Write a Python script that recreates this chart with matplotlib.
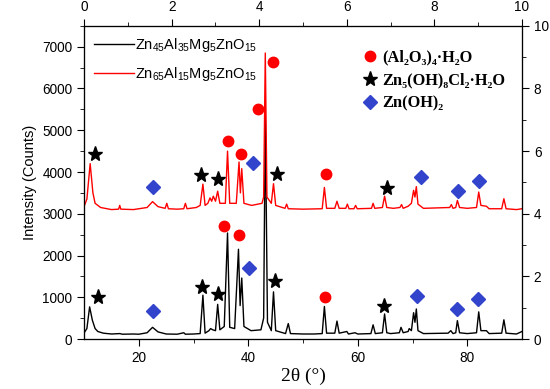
import numpy as np
import matplotlib
matplotlib.use("Agg")
import matplotlib.pyplot as plt
from matplotlib.lines import Line2D

plt.rcParams['font.family'] = ['Liberation Sans', 'DejaVu Sans']
plt.rcParams['mathtext.default'] = 'regular'

# Zn45Al35Mg5ZnO15 pattern (2theta, counts)
black_2theta = [10.0, 10.5, 11.0, 11.5, 12.0, 12.5, 13.5, 15, 16.5, 17, 19, 20, 21.5, 22.5, 23.5,
                25, 27, 28.2, 28.5, 30, 31.2, 31.7, 32.1, 32.8, 33.1, 33.5, 34.0, 34.4, 34.8,
                35.6, 36.2, 36.6, 37.5, 38.2, 38.5, 38.8, 39.2, 40.5, 42.3, 42.8, 43.1, 43.5,
                44.2, 44.6, 45.0, 46.8, 47.3, 47.7, 50, 52, 53.5, 53.9, 54.3, 55.8, 56.2, 56.6,
                58.0, 58.3, 59.5, 60, 62.4, 62.8, 63.2, 64.5, 64.9, 65.3, 66, 67.6, 67.9, 68.3,
                69.2, 69.4, 69.8, 70.2, 70.45, 70.7, 71.0, 72, 76.5, 77.0, 77.4, 77.9, 78.2,
                78.6, 80, 81.7, 82.1, 82.5, 83.5, 84, 86.3, 86.7, 87.1, 89, 90]
black_counts = [150, 250, 770, 450, 250, 180, 140, 120, 130, 115, 120, 115, 150, 280, 170,
                120, 115, 150, 115, 120, 130, 1050, 140, 200, 250, 220, 200, 830, 220,
                300, 2540, 280, 250, 2150, 800, 1460, 300, 200, 220, 500, 5360, 400,
                200, 1130, 200, 130, 370, 130, 120, 120, 130, 780, 140, 140, 430, 140,
                180, 120, 150, 120, 130, 340, 130, 150, 600, 150, 130, 150, 280, 150,
                180, 250, 200, 630, 400, 720, 200, 130, 140, 200, 130, 150, 440,
                150, 130, 150, 650, 200, 200, 130, 140, 460, 140, 120, 180]

# Zn65Al15Mg5ZnO15 pattern (2theta, counts)
red_2theta = [10.0, 10.5, 11.1, 11.6, 12.0, 13, 15, 16.3, 16.5, 16.7, 19, 21.5, 22.5, 23.5,
              24.8, 25.1, 25.4, 27, 28.2, 28.5, 28.8, 30.5, 31.2, 31.7, 32.1, 32.6, 33.0,
              33.3, 33.6, 34.0, 34.4, 34.8, 35.8, 36.2, 36.6, 37.8, 38.3, 38.55, 38.8, 39.2,
              40.6, 42.5, 42.8, 43.1, 43.4, 44.2, 44.6, 45.0, 46.7, 47.0, 47.3, 50, 53.5,
              53.9, 54.3, 55.8, 56.2, 56.6, 57.8, 58.1, 58.4, 59.3, 59.6, 59.9, 62.5, 62.8,
              63.1, 64.5, 64.9, 65.3, 66.5, 67.7, 68.0, 68.3, 69.2, 69.8, 70.2, 70.45, 70.7,
              71.0, 72, 76.8, 77.1, 77.4, 77.9, 78.2, 78.6, 80, 81.7, 82.1, 82.5, 83.5, 84,
              86.3, 86.7, 87.1, 89, 90]
red_counts = [3180, 3350, 4200, 3500, 3250, 3150, 3100, 3110, 3200, 3110, 3100, 3150, 3290, 3170,
              3130, 3250, 3120, 3110, 3120, 3250, 3120, 3150, 3200, 3710, 3200, 3250, 3380,
              3300, 3420, 3300, 3540, 3250, 3250, 4500, 3250, 3250, 4240, 3500, 4080, 3250,
              3200, 3250, 3400, 6850, 3400, 3250, 3720, 3200, 3130, 3230, 3120, 3110, 3120,
              3630, 3130, 3130, 3300, 3130, 3130, 3230, 3120, 3120, 3200, 3120, 3130, 3250,
              3130, 3150, 3420, 3150, 3130, 3150, 3220, 3130, 3180, 3250, 3560, 3400, 3650,
              3230, 3130, 3150, 3220, 3130, 3150, 3320, 3150, 3130, 3150, 3520, 3200, 3180, 3120,
              3120, 3360, 3120, 3100, 3120]

# phase markers (2theta, counts)
circle_x = [36.2, 38.6, 41.7, 44.5, 54.2, 35.6, 38.3, 54.0]
circle_y = [4745, 4440, 5520, 6630, 3950, 2710, 2490, 1000]
star_x = [12.0, 31.4, 34.5, 45.2, 65.3, 12.6, 31.6, 34.5, 44.9, 64.8]
star_y = [4440, 3920, 3830, 3960, 3620, 1000, 1250, 1090, 1390, 800]
diamond_x = [22.5, 40.8, 71.6, 78.4, 82.2, 22.5, 40.1, 70.9, 78.1, 82.0]
diamond_y = [3640, 4220, 3880, 3540, 3790, 670, 1690, 1030, 718, 957]

blue = '#3344cc'

fig = plt.figure(figsize=(5.5, 3.89), dpi=100)
ax = fig.add_axes([0.153, 0.1285, 0.796, 0.805])

l1, = ax.plot(black_2theta, black_counts, color='black', lw=1.0)
l2, = ax.plot(red_2theta, red_counts, color='red', lw=1.0)
ax.plot(circle_x, circle_y, 'o', color='red', ms=7.5, ls='none')
ax.plot(star_x, star_y, '*', color='black', ms=11, ls='none')
ax.plot(diamond_x, diamond_y, 'D', color=blue, ms=7, ls='none')

ax.set_xlim(10, 90)
ax.set_ylim(0, 7500)
ax.set_xticks([20, 40, 60, 80])
ax.set_xticks([30, 50, 70], minor=True)
ax.set_yticks(range(0, 7001, 1000))
ax.set_yticks(range(500, 7501, 1000), minor=True)
ax.tick_params(which='both', direction='out', labelsize=9.8)
ax.tick_params(which='major', length=5)
ax.tick_params(which='minor', length=3)
ax.set_ylabel('Intensity (Counts)', fontsize=10.5, labelpad=4)
ax.set_xlabel('2θ (°)', fontsize=14, family=['Liberation Serif', 'DejaVu Serif'], labelpad=2)

axt = ax.twiny()
axt.set_xlim(0, 10)
axt.set_xticks(range(0, 11, 2))
axt.set_xticks(range(1, 10, 2), minor=True)
axr = ax.twinx()
axr.set_ylim(0, 10)
axr.set_yticks(range(0, 11, 2))
axr.set_yticks(range(1, 10, 2), minor=True)
for a in (axt, axr):
    a.tick_params(which='both', direction='out', labelsize=9.8)
    a.tick_params(which='major', length=5)
    a.tick_params(which='minor', length=3)

leg1 = axr.legend([l1, l2], ['Zn$_{45}$Al$_{35}$Mg$_5$ZnO$_{15}$', 'Zn$_{65}$Al$_{15}$Mg$_5$ZnO$_{15}$'],
                  loc='upper left', bbox_to_anchor=(0.0, 1.0), frameon=False, fontsize=10.5,
                  handlelength=2.7, handletextpad=0.1, labelspacing=0.75, borderaxespad=0.3)
axr.add_artist(leg1)

serif_bold = {'family': ['Liberation Serif', 'DejaVu Serif'], 'weight': 'bold', 'size': 11.8}
hs = [Line2D([], [], marker='o', color='red', ls='none', ms=7.5),
      Line2D([], [], marker='*', color='black', ls='none', ms=11),
      Line2D([], [], marker='D', color=blue, ls='none', ms=7)]
leg2 = axr.legend(hs, ['(Al₂O₃)₄·H₂O', 'Zn₅(OH)₈Cl₂·H₂O', 'Zn(OH)₂'],
                  loc='upper left', bbox_to_anchor=(0.62, 0.945), frameon=False,
                  prop=serif_bold, handlelength=1.0, handletextpad=0.25, labelspacing=0.42,
                  borderaxespad=0.0)

fig.savefig('out.png', dpi=100)
